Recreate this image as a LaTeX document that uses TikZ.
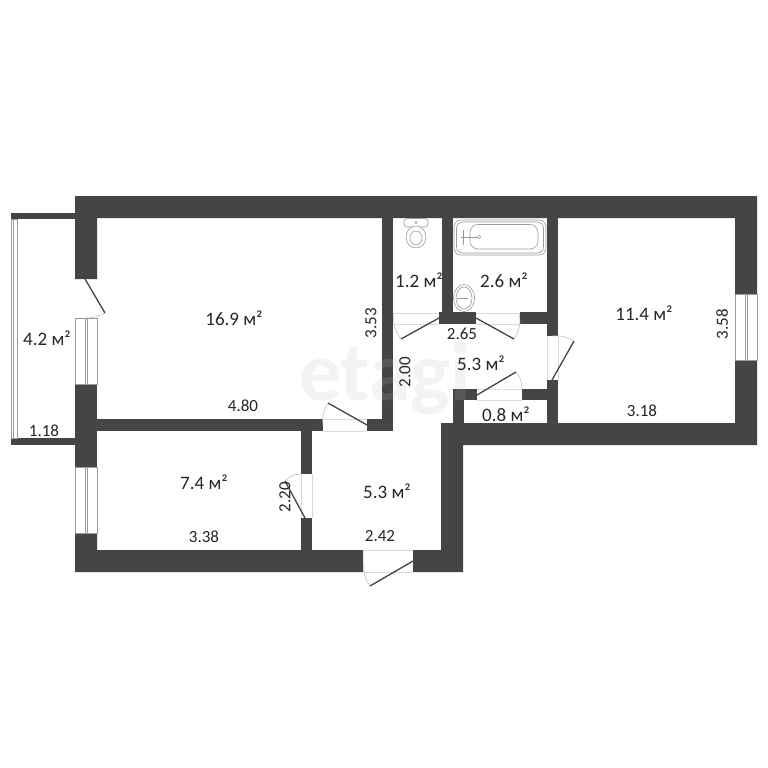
\documentclass[tikz,border=0pt]{standalone}
\usepackage{fontspec}
\setmainfont{Carlito}
\definecolor{wallc}{HTML}{454545}
\definecolor{winc}{HTML}{9A9A9A}
\definecolor{thinc}{HTML}{B8B8B8}
\tikzset{
  wall/.style={fill=wallc,draw=none},
  winframe/.style={draw=winc,line width=0.7pt,fill=white},
  door/.style={draw=wallc,line width=1.3pt},
  doorarc/.style={draw=thinc,line width=0.5pt},
  gapline/.style={draw=thinc!50,line width=0.4pt},
  lbl/.style={font=\fontsize{19}{21}\selectfont,text=black!85,inner sep=0pt},
  dim/.style={font=\fontsize{17}{19}\selectfont,text=black!85,inner sep=0pt},
  fixture/.style={draw=winc,line width=0.6pt,fill=white}
}
\begin{document}
\begin{tikzpicture}[x=1pt,y=-1pt]
\useasboundingbox (0,0) rectangle (768,768);
\fill[white] (0,0) rectangle (768,768);
\node[text=black!5,font=\fontsize{84}{86}\bfseries\selectfont,inner sep=0pt] (mark) at (385,378) {etagi};
% outer walls
\fill[wall] (75,196) -| (757,294) -- (735,294) -- (735,218) -- (97,218) -- (97,279) -- (75,279) -- cycle;
\fill[wall] (735,360) -- (757,360) -- (757,445) -- (463,445) -- (463,572) -- (413,572) -- (413,550) -- (441,550) -- (441,423) -- (735,423) -- cycle;
\fill[wall] (75,384) -- (97,384) -- (97,467) -- (75,467) -- cycle;
\fill[wall] (75,533) -- (97,533) -- (97,550) -- (363,550) -- (363,572) -- (75,572) -- cycle;
% inner walls
\fill[wall] (97,419) rectangle (323,431);
\fill[wall] (367,419) rectangle (393,431);
\fill[wall] (382,218) rectangle (393,431);
\fill[wall] (301,431) rectangle (312,474);
\fill[wall] (301,518) rectangle (312,550);
\fill[wall] (442,218) rectangle (453,312);
\fill[wall] (439,312) rectangle (476,324);
\fill[wall] (520,312) rectangle (558,324);
\fill[wall] (547,218) rectangle (558,336);
\fill[wall] (547,380) rectangle (558,423);
\fill[wall] (453,389) rectangle (464,423);
\fill[wall] (453,389) rectangle (477,400);
\fill[wall] (522,389) rectangle (558,400);
% balcony
\fill[wall] (11,213) rectangle (75,219);
\fill[wall] (11,438) rectangle (75,445);
\draw[winframe] (11,219) rectangle (17,438);
\draw[winc,line width=1.2pt] (13.5,219) -- (13.5,438);
% windows
\draw[winframe] (75,318) rectangle (97,384);
\draw[winc,line width=0.8pt] (85,318) -- (85,384) (87,318) -- (87,384);
\draw[winframe] (75,467) rectangle (97,533);
\draw[winc,line width=0.8pt] (85,467) -- (85,533) (87,467) -- (87,533);
\draw[winframe] (735,294) rectangle (757,360);
\draw[winc,line width=0.8pt] (745,294) -- (745,360) (747,294) -- (747,360);
% door thresholds
\draw[gapline] (393,324) -- (439,324) (393,313) -- (439,313);
\draw[gapline] (476,324) -- (520,324) (476,313) -- (520,313);
\draw[gapline] (558,336) -- (558,380) (547,336) -- (547,380);
\draw[gapline] (477,389) -- (522,389) (477,400) -- (522,400);
\draw[gapline] (323,419) -- (367,419) (323,431) -- (367,431);
\draw[gapline] (301,474) -- (301,518) (312,474) -- (312,518);
\draw[gapline] (363,550) -- (413,550) (363,572) -- (413,572);
% doors
\draw[door] (85,279) -- (105,313);
\draw[doorarc] (105,313) to[bend left=14] (85,318);
\draw[door] (439,318) -- (401,339);
\draw[doorarc] (401,339) to[bend left=22] (394,313);
\draw[door] (476,318) -- (514,339);
\draw[doorarc] (514,339) to[bend right=22] (519,313);
\draw[door] (552,380) -- (574,341);
\draw[doorarc] (574,341) to[bend right=18] (552,336);
\draw[door] (477,395) -- (516,372);
\draw[doorarc] (516,372) to[bend left=20] (522,389);
\draw[door] (367,425) -- (328,403);
\draw[doorarc] (328,403) to[bend right=20] (323,425);
\draw[door] (305,518) -- (285,481);
\draw[doorarc] (285,481) to[bend left=22] (301,474);
\draw[door] (413,561) -- (370,586);
\draw[doorarc] (370,586) to[bend left=20] (364,565);
% toilet
\draw[fixture,rounded corners=3pt] (404,218.5) rectangle (428,227);
\draw[fixture] (416,237) ellipse (10 and 11);
\draw[fixture] (416,238) ellipse (6 and 7);
\draw[winc,line width=0.5pt] (416,222.5) circle (1.3);
% bath
\draw[fixture,rounded corners=7pt] (454,220) rectangle (546,255);
\draw[fixture,rounded corners=6pt] (456.5,222) rectangle (543.5,253);
\draw[fixture,rounded corners=8pt] (470,224.5) rectangle (538,249);
\draw[winc,line width=0.9pt] (461,237) -- (479,237) (463,230) -- (463,245);
\draw[winc,line width=0.6pt,fill=white] (479,237) circle (1.8);
% sink
\draw[fixture] (464,298) ellipse (10.5 and 13.5);
\draw[fixture] (464,298) ellipse (8 and 11);
\draw[winc,line width=0.9pt] (457,298) -- (468,298);
% watermark veil over the walls
\node[text=white,opacity=0.1,font=\fontsize{84}{86}\bfseries\selectfont,inner sep=0pt] (markover) at (385,378) {etagi};
% labels
\node[lbl] (a1) at (234,318) {16.9 м²};
\node[lbl] (a2) at (644,313) {11.4 м²};
\node[lbl] (a3) at (47,338) {4.2 м²};
\node[lbl] (a4) at (419,280) {1.2 м²};
\node[lbl] (a5) at (504,280) {2.6 м²};
\node[lbl] (a6) at (481,363) {5.3 м²};
\node[lbl] (a7) at (506,414) {0.8 м²};
\node[lbl] (a8) at (204,482) {7.4 м²};
\node[lbl] (a9) at (387,491) {5.3 м²};
\node[dim] (d1) at (243,406) {4.80};
\node[dim,rotate=90] (d2) at (371,323) {3.53};
\node[dim,rotate=90] (d3) at (405,372) {2.00};
\node[dim] (d4) at (462,334) {2.65};
\node[dim,rotate=90] (d5) at (722,324) {3.58};
\node[dim] (d6) at (642,411) {3.18};
\node[dim] (d7) at (44,431) {1.18};
\node[dim,rotate=90] (d8) at (285,497) {2.20};
\node[dim] (d9) at (204,537) {3.38};
\node[dim] (d10) at (380,536) {2.42};
\end{tikzpicture}
\end{document}
